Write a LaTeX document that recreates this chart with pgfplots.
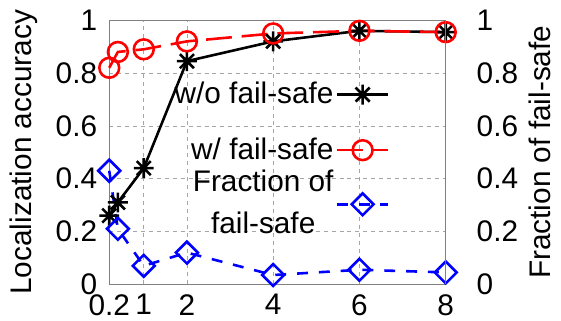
\documentclass[border=0pt]{standalone}
\usepackage{fontspec}
\setmainfont{Liberation Sans}
\usepackage{pgfplots}
\pgfplotsset{compat=1.18}
\pgfdeclareplotmark{star8}{%
  \pgfpathmoveto{\pgfqpoint{-\pgfplotmarksize}{0pt}}\pgfpathlineto{\pgfqpoint{\pgfplotmarksize}{0pt}}%
  \pgfpathmoveto{\pgfqpoint{0pt}{-\pgfplotmarksize}}\pgfpathlineto{\pgfqpoint{0pt}{\pgfplotmarksize}}%
  \pgfpathmoveto{\pgfqpoint{-0.7071\pgfplotmarksize}{-0.7071\pgfplotmarksize}}\pgfpathlineto{\pgfqpoint{0.7071\pgfplotmarksize}{0.7071\pgfplotmarksize}}%
  \pgfpathmoveto{\pgfqpoint{-0.7071\pgfplotmarksize}{0.7071\pgfplotmarksize}}\pgfpathlineto{\pgfqpoint{0.7071\pgfplotmarksize}{-0.7071\pgfplotmarksize}}%
  \pgfusepathqstroke}
\begin{document}
\fontsize{30}{34}\selectfont
\begin{tikzpicture}
\pgfplotsset{
  common/.style={
    scale only axis, width=339pt, height=266pt,
    xmin=0.2, xmax=8, ymin=0, ymax=1,
    /pgf/number format/assume math mode=true,
    tick style={draw=none},
    ytick={0,0.2,0.4,0.6,0.8,1},
    yticklabels={0,0.2,0.4,0.6,0.8,1},
    axis line style={gray, line width=0.8pt},
  }
}
\begin{axis}[common,
  xtick={0.2,1,2,4,6,8},
  xticklabels={0.2,1,2,4,6,8},
  xmajorgrids, ymajorgrids,
  grid style={gray!70, dash pattern=on 4pt off 4pt, line width=0.6pt},
  ylabel={Localization accuracy},
  ylabel style={yshift=-2pt},
  yticklabel style={xshift=-2pt, inner ysep=6pt},
  xticklabel style={inner ysep=5pt, yshift=-5pt},
  clip=false,
  legend plot pos=right,
  legend cell align=right,
  legend style={at={(rel axis cs:0.843,0.785)}, anchor=north east, draw=none, fill=none,
    font=\fontsize{30}{34}\selectfont, row sep=25pt},
  legend image code/.code={\draw[mark repeat=2,mark phase=2] plot coordinates {(0pt,0pt)(26pt,0pt)(52pt,0pt)};},
]
\addplot[black, line width=2.6pt, mark=star8, mark size=10pt, mark options={solid, line width=2.6pt}]
  coordinates {(0.2,0.26)(0.4,0.31)(1,0.44)(2,0.845)(4,0.92)(6,0.96)(8,0.955)};
\addlegendentry{\raisebox{0pt}[0.75em][0.25em]{w/o fail-safe}}
\addplot[red, line width=2.6pt, dash pattern=on 26pt off 10pt, mark=o, mark size=10pt, mark options={solid, line width=2.6pt}]
  coordinates {(0.2,0.82)(0.4,0.88)(1,0.89)(2,0.92)(4,0.95)(6,0.96)(8,0.955)};
\addlegendentry{\raisebox{0pt}[0.75em][0.25em]{w/ fail-safe}}
\addplot[blue, line width=2.6pt, dash pattern=on 11pt off 11pt, mark=square, mark size=7.8pt, mark options={solid, line width=2.6pt, rotate=45}]
  coordinates {(0.2,0.43)(0.4,0.21)(1,0.07)(2,0.12)(4,0.035)(6,0.055)(8,0.045)};
\addlegendentry{\raisebox{0pt}[0.65em][0.25em]{\begin{tabular}{@{}c@{}}Fraction of\\[8pt]fail-safe\end{tabular}}}
\end{axis}
\begin{axis}[common,
  axis y line*=right, axis x line=none,
  ylabel={Fraction of fail-safe},
  yticklabel style={xshift=21pt, inner ysep=6pt},
  ylabel style={yshift=9pt},
]
\addplot[draw=none] coordinates {(0.2,0)};
\end{axis}
\end{tikzpicture}
\end{document}
